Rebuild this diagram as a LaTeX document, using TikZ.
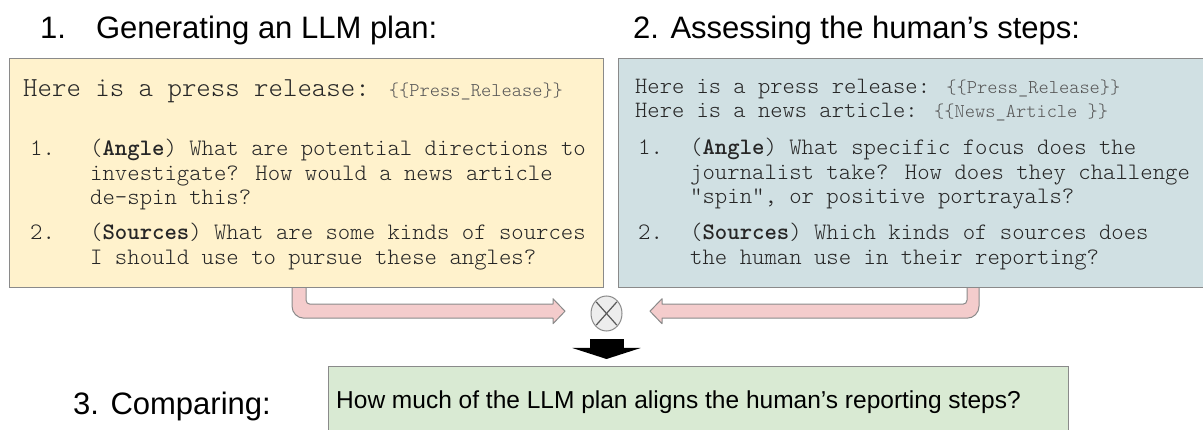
\documentclass[tikz,border=0pt]{standalone}
\usepackage{fontspec}
\setmainfont{Liberation Sans}
\usepackage{xcolor}
\usetikzlibrary{
	arrows.meta,
	calc,
	backgrounds,
	shapes.geometric
}

\definecolor{planyellow}{HTML}{FFF2CC}
\definecolor{stepblue}{HTML}{D0E0E3}
\definecolor{cmpgreen}{HTML}{D9EAD3}
\definecolor{flowpink}{HTML}{F4CCCC}
\definecolor{edgegray}{HTML}{8A8A8A}
\definecolor{txtgray}{HTML}{262626}
\definecolor{tmplgray}{HTML}{555555}

\newcommand{\promptfont}[1]{\ttfamily\fontseries{l}\fontsize{#1}{24.5}\selectfont}
\newcommand{\tmplslot}[1]{{\fontsize{19.5}{20}\selectfont\color{tmplgray}\{\{#1\}\}}}

\tikzset{
	panel/.style={draw=edgegray, line width=1.2pt, inner sep=0pt, anchor=north west},
	heading/.style={anchor=base west, inner sep=0pt, font=\fontsize{31}{36}\selectfont},
	prompt/.style={anchor=base west, inner sep=0pt, align=left, text=txtgray, font=\promptfont{23.6}},
	flowarrow/.style={fill=flowpink, draw=edgegray, line width=1pt, line join=round}
}

\begin{document}
\begin{tikzpicture}[x=1pt, y=-1pt]
	\useasboundingbox (0,0) rectangle (1203,430);
	
	% 标题
	\node[heading] (h1) at (40,39) {1.\hspace{30pt}Generating an LLM plan:};
	\node[heading] (h2) at (633,39) {2. Assessing the human’s steps:};
	\node[heading] (h3) at (73,414) {3. Comparing:};
	
	% 三个框
	\node[panel, fill=planyellow, minimum width=594pt, minimum height=229pt] (plan) at (9,58) {};
	\node[panel, fill=stepblue, minimum width=592pt, minimum height=229pt] (steps) at (618,58) {};
	\node[panel, fill=cmpgreen, minimum width=740pt, minimum height=80pt] (cmp) at (328,366) {};
	
	% 左框文字（多行节点按末行基线放置）
	\node[prompt, font=\promptfont{27.5}] (plan0) at (23,97) {Here is a press release: \tmplslot{Press\_Release}};
	\foreach \k/\yy in {1/156, 2/240}
	\node[prompt] (pn\k) at (30,\yy) {\k.};
	\node[prompt] (pa) at (90,205) {(\textbf{Angle}) What are potential directions to\\investigate? How would a news article\\de-spin this?};
	\node[prompt] (ps) at (90,264.5) {(\textbf{Sources}) What are some kinds of sources\\I should use to pursue these angles?};
	
	% 右框文字
	\node[prompt, font=\promptfont{23.4}] (steps0) at (635,94) {Here is a press release: \tmplslot{Press\_Release}};
	\node[prompt, font=\promptfont{23.4}] (steps1) at (635,118) {Here is a news article: \tmplslot{News\_Article }};
	\foreach \k/\yy in {1/155, 2/240}
	\node[prompt] (sn\k) at (638,\yy) {\k.};
	\node[prompt] (sa) at (690,204) {(\textbf{Angle}) What specific focus does the\\journalist take? How does they challenge\\"spin", or positive portrayals?};
	\node[prompt] (ss) at (690,264.5) {(\textbf{Sources}) Which kinds of sources does\\the human use in their reporting?};
	
	% 底框文字
	\node[anchor=base west, inner sep=0pt, font=\fontsize{24.5}{28}\selectfont] (q) at (336,409) {How much of the LLM plan aligns the human’s reporting steps?};
	
	% 合并符号
	\node[ellipse, draw=edgegray, fill=gray!14, line width=1pt, minimum width=31pt, minimum height=35pt, inner sep=0pt] (mix) at (606.5,313.5) {};
	\draw[gray!70!black, line width=1.2pt, shorten <=1.5pt, shorten >=1.5pt] (mix.north east) -- (mix.south west);
	\draw[gray!70!black, line width=1.2pt, shorten <=1.5pt, shorten >=1.5pt] (mix.north west) -- (mix.south east);
	
	% 粉色箭头
	\coordinate (lsrc) at ($(plan.south west)+(290,0)$);
	\coordinate (rsrc) at ($(steps.south west)+(355,0)$);
	\begin{scope}[on background layer]
		\filldraw[flowarrow] ($(lsrc)+(-7,0)$) -- ++(0,18) arc[start angle=180, end angle=90, radius=12]
			-- ++(249,0) -- ++(0,5.5) -- ++(12,-12.5) coordinate (ltip) -- ++(-12,-12.5) -- ++(0,5.5)
			-- ++(-243,0) arc[start angle=90, end angle=180, radius=4] -- ++(0,-12);
		\filldraw[flowarrow] ($(rsrc)+(6,0)$) -- ++(0,18) arc[start angle=0, end angle=90, radius=12]
			-- ++(-305,0) -- ++(0,5.5) -- ++(-12,-12.5) coordinate (rtip) -- ++(12,-12.5) -- ++(0,5.5)
			-- ++(301,0) arc[start angle=90, end angle=0, radius=4] -- ++(0,-12);
	\end{scope}
	
	% 黑色箭头
	\coordinate (drop) at (mix.south |- cmp.north);
	\draw[line width=34pt, -{Triangle[length=11pt, width=68pt]}] ([yshift=-8pt]mix.south) -- ([yshift=7pt]drop);
\end{tikzpicture}
\end{document}
